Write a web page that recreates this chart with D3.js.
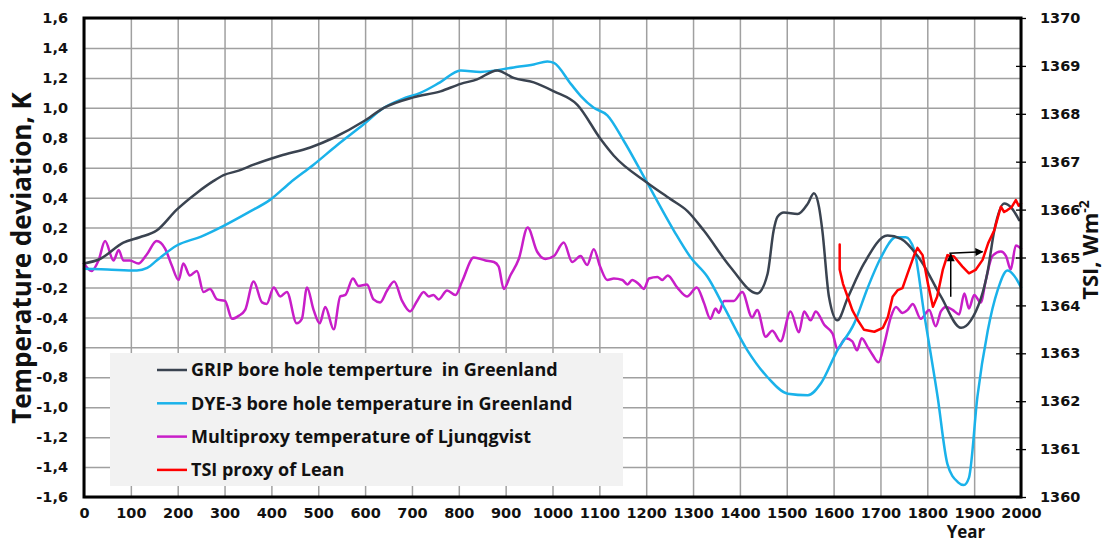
<!DOCTYPE html>
<html>
<head>
<meta charset="utf-8">
<script src="https://cdn.jsdelivr.net/npm/d3@7"></script>
<style>
  body { margin: 0; background: #fff; }
  svg { display: block; }
  .tick text { font-family: "DejaVu Sans", sans-serif; font-weight: bold; font-size: 14.5px; fill: #111; }
</style>
</head>
<body>
<svg id="chart" width="1109" height="544"></svg>
<script>
// ---- data ----
// [year, temperature deviation K]
const grip = [[0,-0.04],[34,-0.01],[84,0.10],[119,0.135],[155,0.18],[198,0.32],[240,0.43],[276,0.51],[298,0.55],[330,0.58],[362,0.62],[419,0.68],[483,0.735],[533,0.80],[597,0.91],[640,1.0],[703,1.07],[761,1.11],[804,1.16],[839,1.19],[882,1.25],[917,1.20],[960,1.17],[1003,1.11],[1053,1.02],[1103,0.79],[1131,0.68],[1202,0.50],[1252,0.39],[1288,0.31],[1323,0.18],[1380,-0.065],[1437,-0.24],[1459,-0.11],[1472,0.18],[1480,0.27],[1494,0.30],[1523,0.29],[1545,0.36],[1558,0.43],[1569,0.335],[1576,0.18],[1590,-0.26],[1608,-0.42],[1630,-0.27],[1665,-0.04],[1715,0.147],[1744,0.125],[1786,-0.02],[1829,-0.26],[1872,-0.47],[1893,-0.42],[1929,-0.09],[1943,0.18],[1964,0.36],[1980,0.33],[1996,0.25]];

const dye3 = [[0,-0.075],[50,-0.08],[113,-0.087],[135,-0.07],[155,-0.02],[198,0.08],[250,0.14],[297,0.21],[350,0.30],[397,0.385],[440,0.50],[490,0.62],[540,0.75],[597,0.89],[640,1.0],[680,1.06],[718,1.10],[760,1.17],[804,1.25],[846,1.24],[917,1.27],[960,1.29],[989,1.31],[1003,1.30],[1039,1.16],[1060,1.08],[1088,1.0],[1117,0.95],[1152,0.78],[1202,0.50],[1259,0.18],[1295,0.0],[1331,-0.13],[1366,-0.33],[1416,-0.62],[1459,-0.80],[1502,-0.91],[1545,-0.92],[1573,-0.84],[1608,-0.62],[1644,-0.44],[1673,-0.20],[1701,0.0],[1733,0.135],[1754,0.135],[1772,0.05],[1793,-0.37],[1822,-0.93],[1843,-1.38],[1865,-1.50],[1878,-1.52],[1889,-1.47],[1907,-0.93],[1929,-0.49],[1950,-0.22],[1971,-0.087],[1985,-0.12],[2000,-0.20]];

const ljungqvist = [[0,-0.04],[16,-0.09],[31,-0.02],[45,0.11],[63,-0.02],[74,0.05],[84,-0.02],[98,-0.02],[116,-0.04],[134,0.02],[155,0.11],[173,0.06],[187,-0.05],[202,-0.15],[212,-0.04],[226,-0.12],[241,-0.09],[255,-0.23],[269,-0.21],[284,-0.28],[301,-0.29],[316,-0.41],[330,-0.39],[344,-0.35],[362,-0.16],[380,-0.30],[390,-0.31],[405,-0.20],[419,-0.26],[433,-0.23],[454,-0.44],[465,-0.41],[476,-0.20],[490,-0.35],[503,-0.44],[515,-0.33],[533,-0.48],[547,-0.26],[558,-0.25],[574,-0.14],[586,-0.19],[604,-0.18],[618,-0.28],[632,-0.30],[647,-0.22],[662,-0.16],[679,-0.29],[696,-0.36],[711,-0.29],[725,-0.23],[736,-0.26],[746,-0.25],[757,-0.28],[775,-0.22],[793,-0.25],[807,-0.16],[832,0.0],[857,-0.02],[875,-0.03],[885,-0.06],[896,-0.21],[910,-0.12],[928,-0.01],[947,0.20],[967,0.04],[985,-0.01],[1003,0.01],[1024,0.10],[1042,-0.03],[1060,0.01],[1074,-0.05],[1088,0.055],[1102,-0.064],[1117,-0.15],[1131,-0.14],[1149,-0.15],[1160,-0.18],[1170,-0.15],[1185,-0.18],[1195,-0.21],[1206,-0.14],[1224,-0.13],[1234,-0.15],[1246,-0.12],[1266,-0.20],[1287,-0.26],[1308,-0.20],[1323,-0.30],[1337,-0.41],[1348,-0.34],[1355,-0.37],[1366,-0.29],[1387,-0.29],[1405,-0.23],[1426,-0.40],[1437,-0.35],[1455,-0.53],[1469,-0.49],[1487,-0.56],[1508,-0.36],[1526,-0.50],[1537,-0.36],[1551,-0.42],[1562,-0.36],[1580,-0.45],[1598,-0.51],[1608,-0.61],[1626,-0.54],[1640,-0.56],[1650,-0.62],[1660,-0.54],[1673,-0.60],[1683,-0.65],[1696,-0.70],[1708,-0.58],[1722,-0.40],[1733,-0.33],[1747,-0.37],[1758,-0.35],[1769,-0.31],[1786,-0.41],[1804,-0.35],[1818,-0.46],[1829,-0.36],[1840,-0.33],[1854,-0.35],[1868,-0.38],[1879,-0.24],[1889,-0.34],[1900,-0.25],[1914,-0.30],[1925,-0.15],[1939,0.01],[1957,0.04],[1968,0.01],[1978,-0.08],[1989,0.08],[2000,0.06]];

// [year, TSI W/m2] on the right axis
const tsiLean = [[1613,1365.27],[1613,1364.75],[1620,1364.45],[1630,1364.18],[1640,1363.90],[1651,1363.70],[1665,1363.49],[1687,1363.45],[1705,1363.53],[1716,1363.76],[1726,1364.18],[1737,1364.32],[1747,1364.36],[1758,1364.67],[1772,1365.05],[1779,1365.20],[1790,1365.05],[1801,1364.47],[1812,1363.97],[1821,1364.18],[1833,1364.74],[1843,1365.05],[1857,1365.02],[1875,1364.81],[1889,1364.67],[1903,1364.74],[1918,1364.95],[1930,1365.30],[1943,1365.57],[1957,1366.06],[1964,1365.95],[1971,1365.99],[1980,1366.05],[1989,1366.20],[1995,1366.08],[2000,1366.13]];

// annotation arrows, [[year, TSI], [year, TSI]]
const arrows = [
  [[1850,1364.18],[1850,1365.07]],
  [[1847,1365.09],[1918,1365.12]]
];

const seriesNames = [
  "GRIP bore hole temperture  in Greenland",
  "DYE-3 bore hole temperature in Greenland",
  "Multiproxy temperature of Ljunqgvist",
  "TSI proxy of Lean"
];
const seriesColors = ["#3a4350", "#1ab2ea", "#c81ec8", "#ff0000"];

const yearTicks = d3.range(0, 2001, 100);
const tempTicks = d3.range(-1.6, 1.61, 0.2).map(v => Math.round(v * 10) / 10);
const tsiTicks = d3.range(1360, 1371, 1);

// ---- layout ----
const svg = d3.select("#chart");
const plotLeft = 84, plotRight = 1021, plotTop = 18, plotBottom = 497;

const x = d3.scaleLinear().domain([0, 2000]).range([plotLeft, plotRight]);
const y = d3.scaleLinear().domain([-1.6, 1.6]).range([plotBottom, plotTop]);
const y2 = d3.scaleLinear().domain([1360, 1370]).range([plotBottom, plotTop]);

const locale = d3.formatLocale({ decimal: ",", thousands: ".", grouping: [3], currency: ["", ""], minus: "-" });
const fmt = locale.format(".1f");

// grid
svg.append("g")
  .attr("transform", `translate(0,${plotBottom})`)
  .call(d3.axisBottom(x).tickValues(yearTicks).tickSize(-(plotBottom - plotTop)).tickFormat(""))
  .call(g => g.select(".domain").remove())
  .call(g => g.selectAll("line").attr("stroke", "#a0a0a0").attr("stroke-width", 1.5));

svg.append("g")
  .attr("transform", `translate(${plotLeft},0)`)
  .call(d3.axisLeft(y).tickValues(tempTicks).tickSize(-(plotRight - plotLeft)).tickFormat(""))
  .call(g => g.select(".domain").remove())
  .call(g => g.selectAll("line").attr("stroke", "#a0a0a0").attr("stroke-width", 1.5));

// legend box (sits over the grid)
const legend = svg.append("g");
legend.append("rect")
  .attr("x", 110).attr("y", 353).attr("width", 513).attr("height", 133)
  .attr("fill", "#f2f2f2");

const rows = legend.selectAll("g.row")
  .data(seriesNames)
  .enter()
  .append("g")
  .attr("class", "row")
  .attr("transform", (d, i) => `translate(157,${370 + i * 33.3})`);

rows.append("line")
  .attr("x1", 0).attr("x2", 30)
  .attr("stroke", (d, i) => seriesColors[i])
  .attr("stroke-width", 2.5);

rows.append("text")
  .attr("x", 34).attr("dy", "0.36em")
  .attr("font-family", "'Open Sans', sans-serif")
  .attr("font-weight", "bold")
  .attr("font-size", 18)
  .attr("fill", "#111")
  .style("white-space", "pre")
  .text(d => d);

// series
const tempLine = d3.line().x(d => x(d[0])).y(d => y(d[1])).curve(d3.curveMonotoneX);
const tsiLine = d3.line().x(d => x(d[0])).y(d => y2(d[1]));

const plot = svg.append("g").attr("fill", "none").attr("stroke-width", 2.5)
  .attr("stroke-linejoin", "round").attr("stroke-linecap", "round");

plot.append("path").datum(ljungqvist).attr("d", tempLine).attr("stroke", seriesColors[2]);
plot.append("path").datum(dye3).attr("d", tempLine).attr("stroke", seriesColors[1]);
plot.append("path").datum(grip).attr("d", tempLine).attr("stroke", seriesColors[0]);
plot.append("path").datum(tsiLean).attr("d", tsiLine).attr("stroke", seriesColors[3]);

// arrows
svg.append("defs").append("marker")
  .attr("id", "head")
  .attr("viewBox", "0 0 10 10")
  .attr("refX", 9).attr("refY", 5)
  .attr("markerWidth", 9).attr("markerHeight", 8)
  .attr("markerUnits", "userSpaceOnUse")
  .attr("orient", "auto")
  .append("path").attr("d", "M0,0L10,5L0,10Z").attr("fill", "#000");

svg.append("g").selectAll("line")
  .data(arrows)
  .enter()
  .append("line")
  .attr("x1", d => x(d[0][0])).attr("y1", d => y2(d[0][1]))
  .attr("x2", d => x(d[1][0])).attr("y2", d => y2(d[1][1]))
  .attr("stroke", "#000").attr("stroke-width", 1.5)
  .attr("marker-end", "url(#head)");

// frame
svg.append("rect")
  .attr("x", plotLeft).attr("y", plotTop)
  .attr("width", plotRight - plotLeft).attr("height", plotBottom - plotTop)
  .attr("fill", "none").attr("stroke", "#000").attr("stroke-width", 3);

// axes labels
svg.append("g")
  .attr("transform", `translate(0,${plotBottom})`)
  .call(d3.axisBottom(x).tickValues(yearTicks).tickSize(0).tickPadding(11).tickFormat(d3.format("d")))
  .call(g => g.select(".domain").remove());

svg.append("g")
  .attr("transform", `translate(${plotLeft},0)`)
  .call(d3.axisLeft(y).tickValues(tempTicks).tickSize(0).tickPadding(16).tickFormat(fmt))
  .call(g => g.select(".domain").remove());

svg.append("g")
  .attr("transform", `translate(${plotRight},0)`)
  .call(d3.axisRight(y2).tickValues(tsiTicks).tickSize(5).tickPadding(14).tickFormat(d3.format("d")))
  .call(g => g.select(".domain").remove())
  .call(g => g.selectAll("line").attr("stroke", "#000").attr("stroke-width", 1.3));

svg.append("g")
  .attr("transform", `translate(${plotRight},0)`)
  .call(d3.axisLeft(y2).tickValues(tsiTicks).tickSize(5).tickFormat(""))
  .call(g => g.select(".domain").remove())
  .call(g => g.selectAll("line").attr("stroke", "#000").attr("stroke-width", 1.3));

// titles
const title = (sel) => sel
  .attr("font-family", "'Open Sans', sans-serif")
  .attr("font-weight", "bold")
  .attr("fill", "#111")
  .attr("text-anchor", "middle");

svg.append("text").call(title)
  .attr("font-size", 26)
  .attr("transform", "translate(31,258) rotate(-90)")
  .text("Temperature deviation, K");

svg.append("text").call(title)
  .attr("font-size", 17)
  .attr("x", 966).attr("y", 538)
  .text("Year");

const tsiTitle = svg.append("text").call(title)
  .attr("font-size", 22)
  .attr("transform", "translate(1098,250) rotate(-90)");
tsiTitle.append("tspan").text("TSI, Wm");
tsiTitle.append("tspan").attr("font-size", 14).attr("dy", -9).text("-2");
</script>
</body>
</html>
